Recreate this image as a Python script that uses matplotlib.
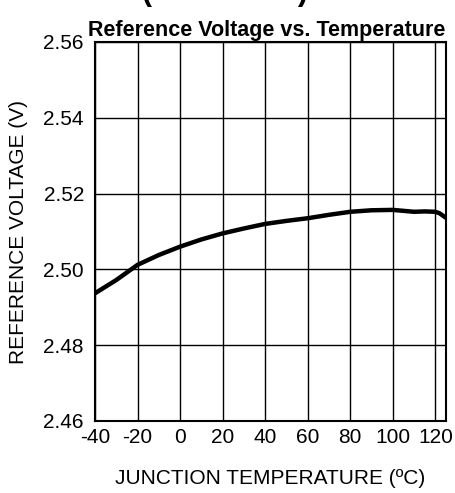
import matplotlib
matplotlib.use("Agg")
import matplotlib.pyplot as plt
import numpy as np

plt.rcParams['font.family'] = ['Liberation Sans', 'DejaVu Sans']
plt.rcParams['axes.unicode_minus'] = False

# Curve
temp = [-40, -30, -20, -10, 0, 10, 20, 30, 40, 50, 60, 70, 80, 90, 100, 110, 115, 120, 122, 125]
vref = [2.4937, 2.4972, 2.5012, 2.5038, 2.5060, 2.5079, 2.5095, 2.5108, 2.5120, 2.5128,
        2.5135, 2.5144, 2.5152, 2.5156, 2.5157, 2.5152, 2.5153, 2.5152, 2.5148, 2.5136]

x_ticks = [-40, -20, 0, 20, 40, 60, 80, 100, 120]
y_ticks = [2.46, 2.48, 2.50, 2.52, 2.54, 2.56]

fig = plt.figure(figsize=(4.56, 4.93), dpi=100)
ax = fig.add_axes([95 / 456, 1 - 421 / 493, 351 / 456, 379 / 493])

ax.plot(temp, vref, color='black', linewidth=3.2, solid_capstyle='butt')

ax.set_xlim(-40, 125)
ax.set_ylim(2.46, 2.56)
ax.set_xticks(x_ticks)
ax.set_yticks(y_ticks)
ax.set_yticklabels([f"{v:.2f}" for v in y_ticks])
ax.tick_params(length=0, labelsize=15)
ax.tick_params(axis='x', pad=5)
ax.tick_params(axis='y', pad=8)
ax.grid(True, color='black', linewidth=1.0)
ax.set_axisbelow(True)
for s in ax.spines.values():
    s.set_linewidth(1.5)

ax.set_xlabel("JUNCTION TEMPERATURE (ºC)", fontsize=15, labelpad=16)
ax.set_ylabel("REFERENCE VOLTAGE (V)", fontsize=15, labelpad=11)
ax.set_title("Reference Voltage vs. Temperature", fontsize=15.5, fontweight='bold',
             pad=4, x=0.49)

# section heading cut off at the top of the page
fig.text(308 / 456, 1.0, "Characteristics (continued)", fontsize=22,
         fontweight='bold', ha='right', va='baseline')

fig.savefig("out.png", dpi=100)
